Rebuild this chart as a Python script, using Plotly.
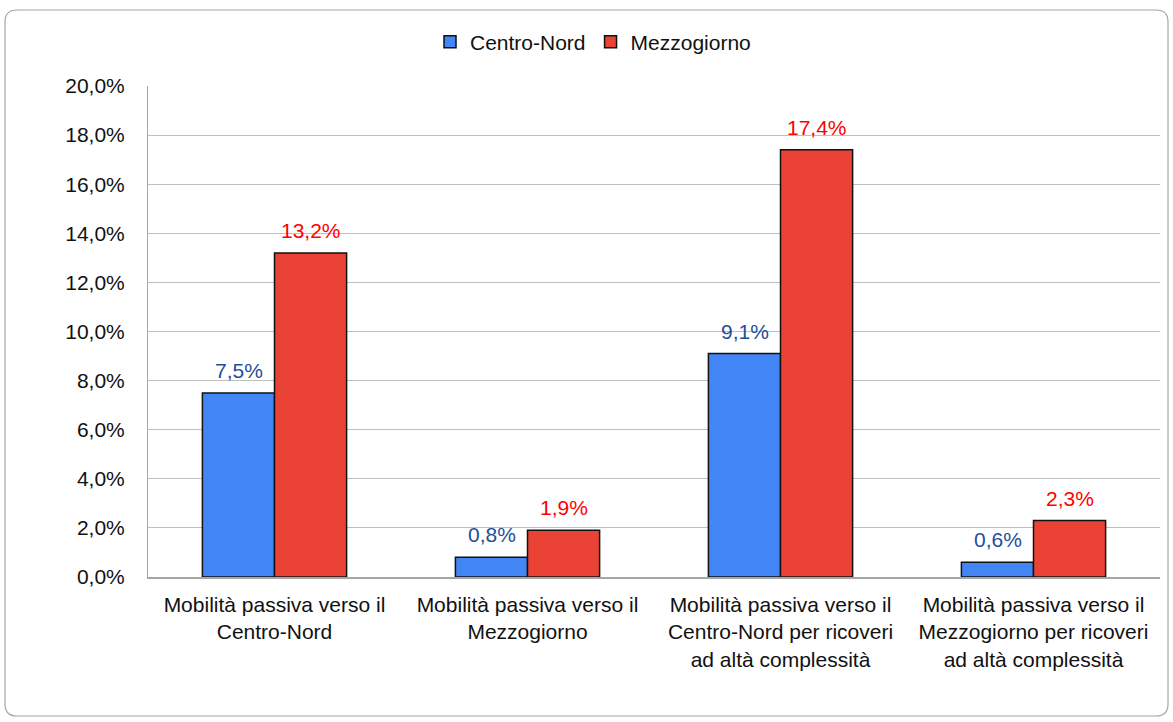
import plotly.graph_objects as go

categories = [
    "Mobilità passiva verso il<br>Centro-Nord",
    "Mobilità passiva verso il<br>Mezzogiorno",
    "Mobilità passiva verso il<br>Centro-Nord per ricoveri<br>ad altà complessità",
    "Mobilità passiva verso il<br>Mezzogiorno per ricoveri<br>ad altà complessità",
]
centro_nord = [7.5, 0.8, 9.1, 0.6]
mezzogiorno = [13.2, 1.9, 17.4, 2.3]
y_ticks = [0, 2, 4, 6, 8, 10, 12, 14, 16, 18, 20]

FONT = "Liberation Sans, Arial, sans-serif"
BLUE = "#4285F4"
RED = "#EA4335"
BLUE_TXT = "#1F4E9A"
RED_TXT = "#FF0000"
FS = 21

W, H = 1173, 722
ML, MR, MT, MB = 148, 13, 86, 145

fig = go.Figure()
fig.add_trace(go.Bar(name="Centro-Nord", x=categories, y=centro_nord,
                     marker=dict(color=BLUE, line=dict(color="#111111", width=1.5))))
fig.add_trace(go.Bar(name="Mezzogiorno", x=categories, y=mezzogiorno,
                     marker=dict(color=RED, line=dict(color="#111111", width=1.5))))

ann = []
for c, v in zip(categories, centro_nord):
    ann.append(dict(x=c, y=v, xref="x", yref="y", text=f"{v:.1f}%".replace(".", ","),
                    showarrow=False, xshift=-36, yshift=9, yanchor="bottom",
                    font=dict(family=FONT, size=FS, color=BLUE_TXT)))
for c, v in zip(categories, mezzogiorno):
    ann.append(dict(x=c, y=v, xref="x", yref="y", text=f"{v:.1f}%".replace(".", ","),
                    showarrow=False, xshift=36, yshift=9, yanchor="bottom",
                    font=dict(family=FONT, size=FS, color=RED_TXT)))

# rounded frame around the whole chart (pixel -> paper)
pw = W - ML - MR
ph = H - MT - MB
def px(x):
    return (x - ML) / pw
def py(y):
    return (H - MB - y) / ph
x0, x1, y0, y1, r = 5, 1168, 10, 716, 12
path = (f"M {px(x0 + r)},{py(y0)} L {px(x1 - r)},{py(y0)} "
        f"Q {px(x1)},{py(y0)} {px(x1)},{py(y0 + r)} "
        f"L {px(x1)},{py(y1 - r)} Q {px(x1)},{py(y1)} {px(x1 - r)},{py(y1)} "
        f"L {px(x0 + r)},{py(y1)} Q {px(x0)},{py(y1)} {px(x0)},{py(y1 - r)} "
        f"L {px(x0)},{py(y0 + r)} Q {px(x0)},{py(y0)} {px(x0 + r)},{py(y0)} Z")

fig.update_layout(
    width=W, height=H,
    margin=dict(l=ML, r=MR, t=MT, b=MB),
    paper_bgcolor="white", plot_bgcolor="white",
    barmode="group", bargap=0.43, bargroupgap=0,
    separators=", ",
    font=dict(family=FONT, size=FS, color="#111111"),
    legend=dict(orientation="h", x=px(593), xanchor="center", y=py(42), yanchor="middle",
                font=dict(family=FONT, size=FS, color="#111111"),
                itemwidth=30, traceorder="normal"),
    annotations=ann,
    shapes=[dict(type="path", path=path, xref="paper", yref="paper",
                 line=dict(color="#A6A6A6", width=1.2), layer="below")],
    xaxis=dict(showline=True, linecolor="#A6A6A6", linewidth=1.5, ticks="",
               ticklabelstandoff=8,
               tickfont=dict(family=FONT, size=21, color="#111111")),
    yaxis=dict(range=[0, 20], tickvals=y_ticks,
               ticktext=[f"{t:.1f}%".replace(".", ",") for t in y_ticks],
               showgrid=True, gridcolor="#BFBFBF", gridwidth=1,
               showline=True, linecolor="#A6A6A6", linewidth=1,
               zeroline=False, ticks="", ticklen=0, ticklabelstandoff=18,
               tickfont=dict(family=FONT, size=FS, color="#111111")),
)

fig.write_html("out.html", config={"displayModeBar": False},
               post_script="document.body.style.margin='0';document.body.style.overflow='hidden';")
